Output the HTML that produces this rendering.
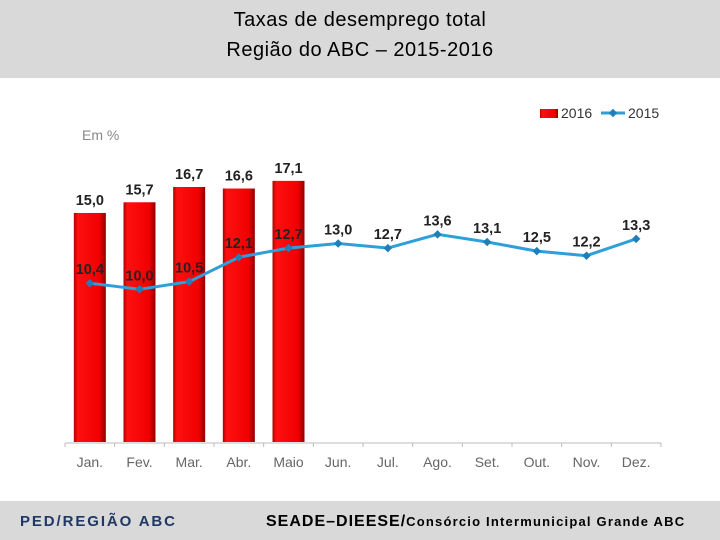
<!DOCTYPE html>
<html><head><meta charset="utf-8"><style>
body{margin:0;width:720px;height:540px;background:#fff;font-family:"Liberation Sans",sans-serif;overflow:hidden;position:relative}
.band{position:absolute;left:0;width:720px;background:#d9d9d9}
</style></head><body>
<div class="band" style="top:0;height:78px"></div>
<div style="position:absolute;top:5px;left:0;width:720px;text-align:center;font-size:20px;line-height:30px;color:#000;letter-spacing:0.5px">Taxas de desemprego total<br>Região do ABC – 2015-2016</div>
<div class="band" style="top:501px;height:39px"></div>
<div style="position:absolute;left:20px;top:513px;font-size:15px;color:#1f3864;letter-spacing:1.9px;font-weight:bold">PED/REGIÃO ABC</div>
<div style="position:absolute;left:266px;top:513px;font-size:16px;font-weight:bold;color:#000;white-space:nowrap;letter-spacing:1px">SEADE–DIEESE/<span style="font-size:13px;letter-spacing:1.2px">Consórcio Intermunicipal Grande ABC</span></div>
<svg width="720" height="540" style="position:absolute;left:0;top:0">
<defs><linearGradient id="rg" x1="0" x2="1" y1="0" y2="0">
<stop offset="0" stop-color="#b00000"/><stop offset="0.12" stop-color="#ff1010"/><stop offset="0.8" stop-color="#f00000"/><stop offset="1" stop-color="#900000"/></linearGradient></defs>
<g id="g"></g>
</svg>
<script>
const categories=["Jan.","Fev.","Mar.","Abr.","Maio","Jun.","Jul.","Ago.","Set.","Out.","Nov.","Dez."];
const values2016=[15.0,15.7,16.7,16.6,17.1];
const values2015=[10.4,10.0,10.5,12.1,12.7,13.0,12.7,13.6,13.1,12.5,12.2,13.3];
const x0=65,x1=661,y0=442,ppu=15.27;
const bw=(x1-x0)/categories.length;
const X=i=>x0+bw*(i+0.5);
const Y=v=>y0-v*ppu;
const g=document.getElementById('g');const NS='http://www.w3.org/2000/svg';
function mk(t,a,p){const e=document.createElementNS(NS,t);for(const k in a)e.setAttribute(k,a[k]);(p||g).appendChild(e);return e;}
const fmt=v=>v.toFixed(1).replace('.',',');
let e=mk('line',{x1:x0,x2:x1,y1:y0+1,y2:y0+1,stroke:'#bbb'});


for(let i=0;i<=categories.length;i++){mk('line',{x1:x0+bw*i,x2:x0+bw*i,y1:y0+1,y2:y0+5,stroke:'#bbb'});}
categories.forEach((c,i)=>{e=mk('text',{x:X(i),y:y0+25,'text-anchor':'middle','font-size':14,fill:'#666'});e.textContent=c;

});
values2016.forEach((v,i)=>{e=mk('rect',{x:X(i)-16,y:Y(v),width:32,height:y0-Y(v),fill:'url(#rg)'});


e=mk('text',{x:X(i),y:Y(v)-8,'text-anchor':'middle','font-size':14.5,'font-weight':'bold',fill:'#222'});e.textContent=fmt(v);

});
let d=values2015.map((v,i)=>(i?'L':'M')+X(i)+','+Y(v)).join(' ');
e=mk('path',{d:d,fill:'none',stroke:'#2e9fd8','stroke-width':3,'stroke-linejoin':'round'});


values2015.forEach((v,i)=>{e=mk('rect',{x:X(i)-3,y:Y(v)-3,width:6,height:6,fill:'#1f7fb8',transform:`rotate(45 ${X(i)} ${Y(v)})`});


e=mk('text',{x:X(i),y:Y(v)-9,'text-anchor':'middle','font-size':14.5,'font-weight':'bold',fill:'#222'});e.textContent=fmt(v);

});
e=mk('text',{x:82,y:140,'font-size':14,fill:'#888'});e.textContent='Em %';


e=mk('rect',{x:540,y:109,width:18,height:9,fill:'url(#rg)'});


e=mk('text',{x:561,y:118,'font-size':14,fill:'#333'});e.textContent='2016';


e=mk('line',{x1:601,x2:625,y1:113,y2:113,stroke:'#2e9fd8','stroke-width':3});


mk('rect',{x:610,y:110,width:6,height:6,fill:'#1f7fb8',transform:'rotate(45 613 113)'});
e=mk('text',{x:628,y:118,'font-size':14,fill:'#333'});e.textContent='2015';


</script>
</body></html>
